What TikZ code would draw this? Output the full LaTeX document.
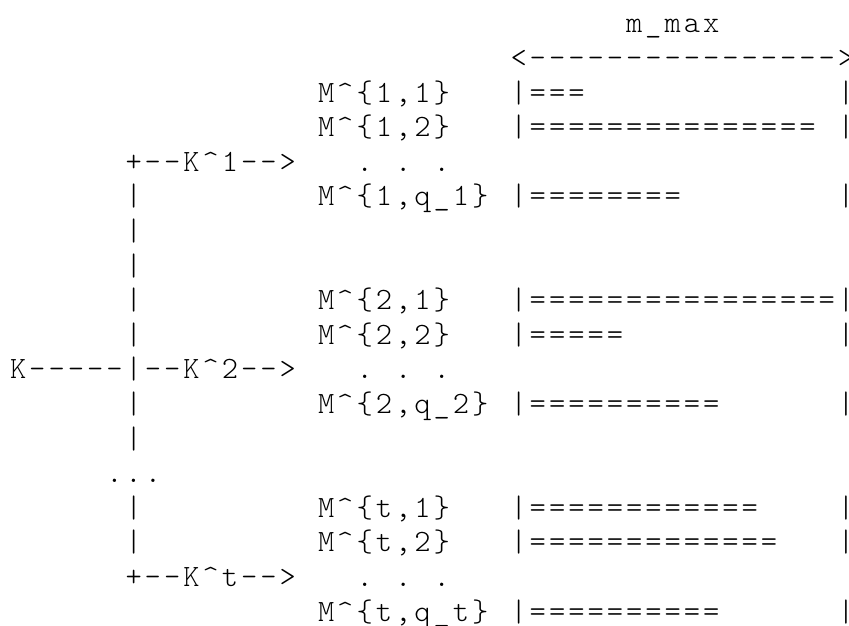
\documentclass[tikz,border=0pt]{standalone}
\usepackage{fontspec}
\newfontfamily\gridfont{Latin Modern Mono Light}[LetterSpace=9.6]
% character grid: 19.25pt per column, 34.6pt per line
\newcommand\colx[1]{10pt+#1*19.25pt}
\newcommand\rowy[1]{-(32.8pt+#1*34.6pt)}
\newcommand\seg[4]{\node[ascii] (#1) at ({\colx{#2}},{\rowy{#3}}) {#4};}
\newcommand\caret{\textasciicircum}
\tikzset{ascii/.style={font=\gridfont\fontsize{31pt}{34.6pt}\selectfont,
  anchor=base west, inner sep=0pt, outer sep=0pt, text=black}}
\begin{document}
\begin{tikzpicture}
\fill[white] (0,0) rectangle (849pt,-625pt);
\useasboundingbox (0,0) rectangle (849pt,-625pt);
% width scale
\seg{mmax}{32}{0}{m\_max}
\seg{span}{26}{1}{<{-}{-}{-}{-}{-}{-}{-}{-}{-}{-}{-}{-}{-}{-}{-}{-}>}
% group 1
\seg{m11}{16}{2}{M\caret\{1,1\}}
\seg{b11}{26}{2}{|===}
\seg{e11}{43}{2}{|}
\seg{m12}{16}{3}{M\caret\{1,2\}}
\seg{b12}{26}{3}{|===============}
\seg{e12}{43}{3}{|}
\seg{k1}{6}{4}{+{-}{-}K\caret 1{-}{-}>}
\seg{d1a}{18}{4}{.}\seg{d1b}{20}{4}{.}\seg{d1c}{22}{4}{.}
\seg{v5}{6}{5}{|}
\seg{m1q}{16}{5}{M\caret\{1,q\_1\}}
\seg{b1q}{26}{5}{|========}
\seg{e1q}{43}{5}{|}
\seg{v6}{6}{6}{|}
\seg{v7}{6}{7}{|}
% group 2
\seg{v8}{6}{8}{|}
\seg{m21}{16}{8}{M\caret\{2,1\}}
\seg{b21}{26}{8}{|================}
\seg{e21}{43}{8}{|}
\seg{v9}{6}{9}{|}
\seg{m22}{16}{9}{M\caret\{2,2\}}
\seg{b22}{26}{9}{|=====}
\seg{e22}{43}{9}{|}
\seg{k2}{0}{10}{K{-}{-}{-}{-}{-}|{-}{-}K\caret 2{-}{-}>}
\seg{d2a}{18}{10}{.}\seg{d2b}{20}{10}{.}\seg{d2c}{22}{10}{.}
\seg{v11}{6}{11}{|}
\seg{m2q}{16}{11}{M\caret\{2,q\_2\}}
\seg{b2q}{26}{11}{|==========}
\seg{e2q}{43}{11}{|}
\seg{v12}{6}{12}{|}
\seg{gap}{5}{13}{...}
% group t
\seg{v14}{6}{14}{|}
\seg{mt1}{16}{14}{M\caret\{t,1\}}
\seg{bt1}{26}{14}{|============}
\seg{et1}{43}{14}{|}
\seg{v15}{6}{15}{|}
\seg{mt2}{16}{15}{M\caret\{t,2\}}
\seg{bt2}{26}{15}{|=============}
\seg{et2}{43}{15}{|}
\seg{kt}{6}{16}{+{-}{-}K\caret t{-}{-}>}
\seg{dta}{18}{16}{.}\seg{dtb}{20}{16}{.}\seg{dtc}{22}{16}{.}
\seg{mtq}{16}{17}{M\caret\{t,q\_t\}}
\seg{btq}{26}{17}{|==========}
\seg{etq}{43}{17}{|}
\end{tikzpicture}
\end{document}
